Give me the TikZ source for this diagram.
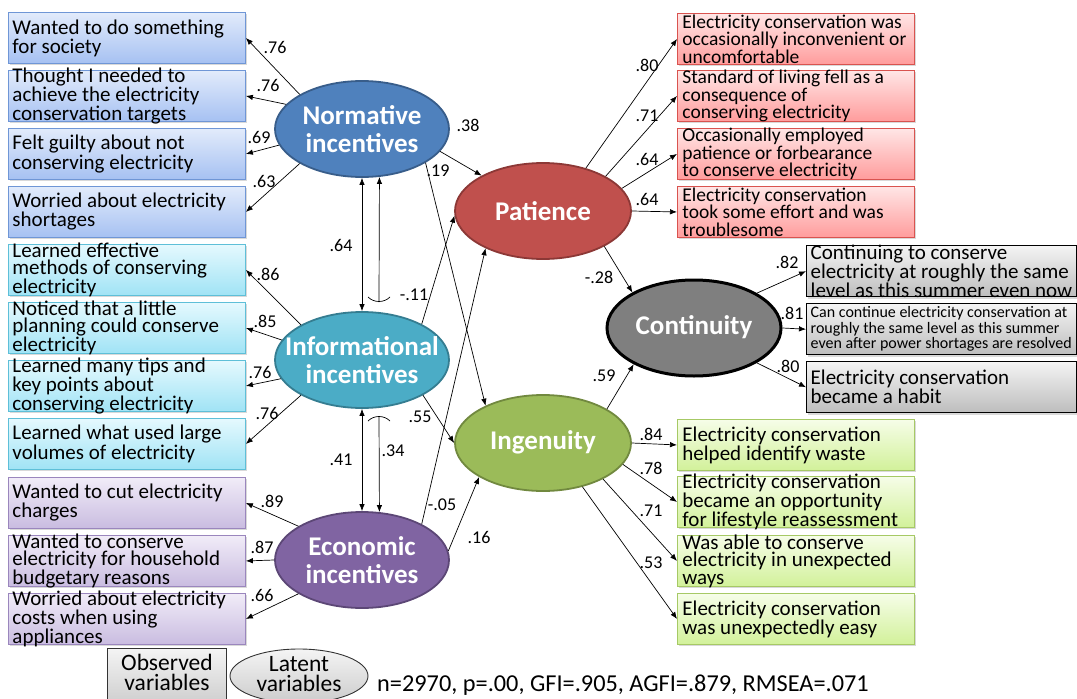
\documentclass[tikz,border=0pt]{standalone}
\usepackage{fontspec}
\setmainfont{Carlito}
\usetikzlibrary{arrows.meta,shapes.geometric,shadows}
\definecolor{nfill}{HTML}{4F81BD}\definecolor{ndraw}{HTML}{385D8A}
\definecolor{ifill}{HTML}{4BACC6}\definecolor{idraw}{HTML}{357D91}
\definecolor{efill}{HTML}{8064A2}\definecolor{edraw}{HTML}{5C4776}
\definecolor{pfill}{HTML}{C0504D}\definecolor{pdraw}{HTML}{8C3836}
\definecolor{gfill}{HTML}{9BBB59}\definecolor{gdraw}{HTML}{71893F}
\definecolor{cfill}{HTML}{7F7F7F}
\definecolor{bluetop}{HTML}{E2EBFB}\definecolor{bluebot}{HTML}{A6C1F2}\definecolor{bluedraw}{HTML}{6F96D6}
\definecolor{cyantop}{HTML}{E5F9FE}\definecolor{cyanbot}{HTML}{A0E3F5}\definecolor{cyandraw}{HTML}{5EBFD8}
\definecolor{purptop}{HTML}{F1ECF8}\definecolor{purpbot}{HTML}{C9BCE0}\definecolor{purpdraw}{HTML}{9A86BD}
\definecolor{redtop}{HTML}{FFE6E6}\definecolor{redbot}{HTML}{FF9C9C}\definecolor{reddraw}{HTML}{D9534F}
\definecolor{grtop}{HTML}{F6FDE8}\definecolor{grbot}{HTML}{D2F19A}\definecolor{grdraw}{HTML}{A6C965}
\definecolor{graytop}{HTML}{F4F4F4}\definecolor{graybot}{HTML}{BDBDBD}
\newcommand\bt[2][229pt]{\parbox[c][40pt][c]{#1}{\raggedright #2}}
\tikzset{
  obox/.style={rectangle, draw, line width=0.9pt, minimum width=237pt, minimum height=51pt,
    inner xsep=4pt, inner ysep=0pt, anchor=north west,
    drop shadow={shadow xshift=1.5pt, shadow yshift=-2pt, opacity=0.3}},
  bluebox/.style={obox, draw=bluedraw, top color=bluetop, bottom color=bluebot, font=\fontsize{21}{17.5}\selectfont},
  cyanbox/.style={obox, draw=cyandraw, top color=cyantop, bottom color=cyanbot, font=\fontsize{21}{17.5}\selectfont},
  purpbox/.style={obox, draw=purpdraw, top color=purptop, bottom color=purpbot, font=\fontsize{21}{17.5}\selectfont},
  redbox/.style={obox, draw=reddraw, top color=redtop, bottom color=redbot, inner xsep=5pt, font=\fontsize{19.5}{17.5}\selectfont},
  grbox/.style={obox, draw=grdraw, top color=grtop, bottom color=grbot, inner xsep=5pt, font=\fontsize{21}{17.5}\selectfont},
  graybox/.style={obox, draw=black, line width=1.4pt, top color=graytop, bottom color=graybot, minimum width=270pt, font=\fontsize{21}{17}\selectfont},
  lat/.style={ellipse, minimum width=174pt, minimum height=96pt, line width=1.8pt, inner sep=0pt},
  lt/.style={text=white, font=\bfseries\fontsize{27}{28}\selectfont, align=center, inner sep=0pt},
  arr/.style={line width=0.7pt, -{Latex[length=7pt,width=5.5pt]}},
  darr/.style={line width=0.7pt, {Latex[length=7pt,width=5.5pt]}-{Latex[length=7pt,width=5.5pt]}},
  lab/.style={font=\fontsize{18}{18}\selectfont, inner sep=0pt},
  legt/.style={align=center, inner sep=0pt, font=\fontsize{23.5}{20}\selectfont},
}
\begin{document}
\begin{tikzpicture}[x=1pt,y=-1pt]
\useasboundingbox (0,0) rectangle (1077,699);
% left observed boxes
\node[bluebox] (b1) at (8,12) {\bt{Wanted to do something\\for society}};
\node[bluebox] (b2) at (8,70) {\bt{Thought I needed to\\achieve the electricity\\conservation targets}};
\node[bluebox] (b3) at (8,128) {\bt{Felt guilty about not\\conserving electricity}};
\node[bluebox] (b4) at (8,186) {\bt{Worried about electricity\\shortages}};
\node[cyanbox] (c1) at (8,244) {\bt{Learned effective\\methods of conserving\\electricity}};
\node[cyanbox] (c2) at (8,302) {\bt{Noticed that a little\\planning could conserve\\electricity}};
\node[cyanbox] (c3) at (8,360) {\bt{Learned many tips and\\key points about\\conserving electricity}};
\node[cyanbox] (c4) at (8,418) {\bt{Learned what used large\\volumes of electricity}};
\node[purpbox] (p1) at (8,477) {\bt{Wanted to cut electricity\\charges}};
\node[purpbox] (p2) at (8,535) {\bt{Wanted to conserve\\electricity for household\\budgetary reasons}};
\node[purpbox] (p3) at (8,593) {\bt{Worried about electricity\\costs when using\\appliances}};
% right observed boxes
\node[redbox] (r1) at (677,13) {\bt[227pt]{Electricity conservation was\\occasionally inconvenient or\\uncomfortable}};
\node[redbox] (r2) at (677,70) {\bt[227pt]{Standard of living fell as a\\consequence of\\conserving electricity}};
\node[redbox] (r3) at (677,128) {\bt[227pt]{Occasionally employed\\patience or forbearance\\to conserve electricity}};
\node[redbox] (r4) at (677,186) {\bt[227pt]{Electricity conservation\\took some effort and was\\troublesome}};
\node[graybox] (k1) at (806,245) {\bt[262pt]{Continuing to conserve\\electricity at roughly the same\\level as this summer even now}};
\node[graybox, font=\fontsize{16}{15.5}\selectfont] (k2) at (806,303) {\bt[262pt]{Can continue electricity conservation at\\roughly the same level as this summer\\even after power shortages are resolved}};
\node[graybox] (k3) at (806,361) {\bt[262pt]{Electricity conservation\\became a habit}};
\node[grbox] (g1) at (677,419) {\bt[227pt]{Electricity conservation\\helped identify waste}};
\node[grbox] (g2) at (677,476) {\bt[227pt]{Electricity conservation\\became an opportunity\\for lifestyle reassessment}};
\node[grbox] (g3) at (677,535) {\bt[227pt]{Was able to conserve\\electricity in unexpected\\ways}};
\node[grbox] (g4) at (677,593) {\bt[227pt]{Electricity conservation\\was unexpectedly easy}};
% latent variables
\node[lat, fill=nfill, draw=ndraw, label={[lt]center:Normative\\incentives}] (N) at (362,129) {};
\node[lat, fill=ifill, draw=idraw, label={[lt]center:Informational\\incentives}] (IN) at (362,360) {};
\node[lat, fill=efill, draw=edraw, label={[lt]center:Economic\\incentives}] (EC) at (362,560) {};
\node[lat, minimum width=176pt, fill=pfill, draw=pdraw, label={[lt]center:Patience}] (PA) at (543,211) {};
\node[lat, minimum width=176pt, fill=gfill, draw=gdraw, label={[lt, text height=19pt, text depth=6pt]center:Ingenuity}] (IG) at (543,443) {};
\node[lat, minimum width=174pt, fill=cfill, draw=black, line width=3pt, label={[lt, text height=19pt, text depth=6pt]center:Continuity}] (CO) at (694,328) {};
% measurement arrows
\draw[arr] (N.151) -- (b1.east); \node[lab] (l1) at (275,47) {.76};
\draw[arr] (N.162) -- (b2.east); \node[lab] (l2) at (268,85) {.76};
\draw[arr] (N.191) -- (b3.east); \node[lab] (l3) at (259,137) {.69};
\draw[arr] (N.209) -- (b4.east); \node[lab] (l4) at (264,181) {.63};
\draw[arr] (IN.150) -- (c1.east); \node[lab] (l5) at (268,274) {.86};
\draw[arr] (IN.166) -- (c2.east); \node[lab] (l6) at (265,321) {.85};
\draw[arr] (IN.193) -- (c3.east); \node[lab] (l7) at (260,372) {.76};
\draw[arr] (IN.210) -- (c4.east); \node[lab] (l8) at (267,413) {.76};
\draw[arr] (EC.152) -- (p1.east); \node[lab] (l9) at (272,501) {.89};
\draw[arr] (EC.180) -- (p2.east); \node[lab] (l10) at (262,547) {.87};
\draw[arr] (EC.208) -- (p3.east); \node[lab] (l11) at (262,595) {.66};
\draw[arr] (PA.45) -- (r1.west); \node[lab] (l12) at (647,65) {.80};
\draw[arr] (PA.29) -- (r2.west); \node[lab] (l13) at (647,116) {.71};
\draw[arr] (PA.16) -- (r3.west); \node[lab] (l14) at (647,159) {.64};
\draw[arr] (PA.0) -- (r4.west); \node[lab] (l15) at (647,199) {.64};
\draw[arr] (CO.29) -- (k1.west); \node[lab] (l16) at (787,262) {.82};
\draw[arr] (CO.0) -- (k2.west); \node[lab] (l17) at (792,313) {.81};
\draw[arr] (CO.-29) -- (k3.west); \node[lab] (l18) at (788,366) {.80};
\draw[arr] (IG.0) -- (g1.west); \node[lab] (l19) at (651,434) {.84};
\draw[arr] (IG.-15) -- (g2.west); \node[lab] (l20) at (651,468) {.78};
\draw[arr] (IG.-31) -- (g3.west); \node[lab] (l21) at (651,511) {.71};
\draw[arr] (IG.-48) -- (g4.west); \node[lab] (l22) at (651,563) {.53};
% structural paths
\draw[arr] (N.-16) -- (PA.150); \node[lab] (s1) at (468,125) {.38};
\draw[arr] (N.-28) -- (IG.147); \node[lab] (s2) at (438,171) {.19};
\draw[arr] (IN.31) -- (PA.183); \node[lab] (s3) at (414,295) {-.11};
\draw[arr] (IN.-30) -- (IG.180); \node[lab] (s4) at (420,417) {.55};
\draw[arr] (EC.31) -- (PA.213); \node[lab] (s5) at (442,505) {-.05};
\draw[arr] (EC.6) -- (IG.208); \node[lab] (s6) at (479,537) {.16};
\draw[arr] (PA.-30) -- (CO.150); \node[lab] (s7) at (599,277) {-.28};
\draw[arr] (IG.28) -- (CO.211); \node[lab] (s8) at (604,376) {.59};
% covariances
\draw[darr] (N.south) -- (IN.north); \node[lab] (v1) at (341,245) {.64};
\draw[darr] (IN.south) -- (EC.north); \node[lab] (v2) at (341,460) {.41};
\coordinate (j1) at (379,302);
\coordinate (j2) at (379,416);
\draw[arr] (j1) -- (N.-70);
\draw[line width=0.7pt] ([shift={(-11,-5)}]j1) .. controls ([shift={(-5,1)}]j1) and ([shift={(5,1)}]j1) .. ([shift={(11,-5)}]j1);
\draw[arr] (j2) -- (EC.70);
\draw[line width=0.7pt] ([shift={(-11,5)}]j2) .. controls ([shift={(-5,-1)}]j2) and ([shift={(5,-1)}]j2) .. ([shift={(11,5)}]j2);
\node[lab] (v3) at (393,451) {.34};
% legend
\node[rectangle, draw=black!80, line width=0.9pt, top color=graytop, bottom color=black!20, minimum width=119pt, minimum height=58pt, anchor=north west, inner sep=0pt, label={[legt, yshift=5pt]center:Observed\\variables}] (ov) at (107,648) {};
\node[ellipse, draw=black!80, line width=0.9pt, top color=graytop, bottom color=black!20, minimum width=138pt, minimum height=54pt, inner sep=0pt, label={[legt, yshift=2pt]center:Latent\\variables}] (lv) at (299,676) {};
\node[anchor=base west, inner sep=0pt, font=\fontsize{24.3}{24}\selectfont] (st) at (377,691) {n=2970, p=.00, GFI=.905, AGFI=.879, RMSEA=.071};
\end{tikzpicture}
\end{document}
